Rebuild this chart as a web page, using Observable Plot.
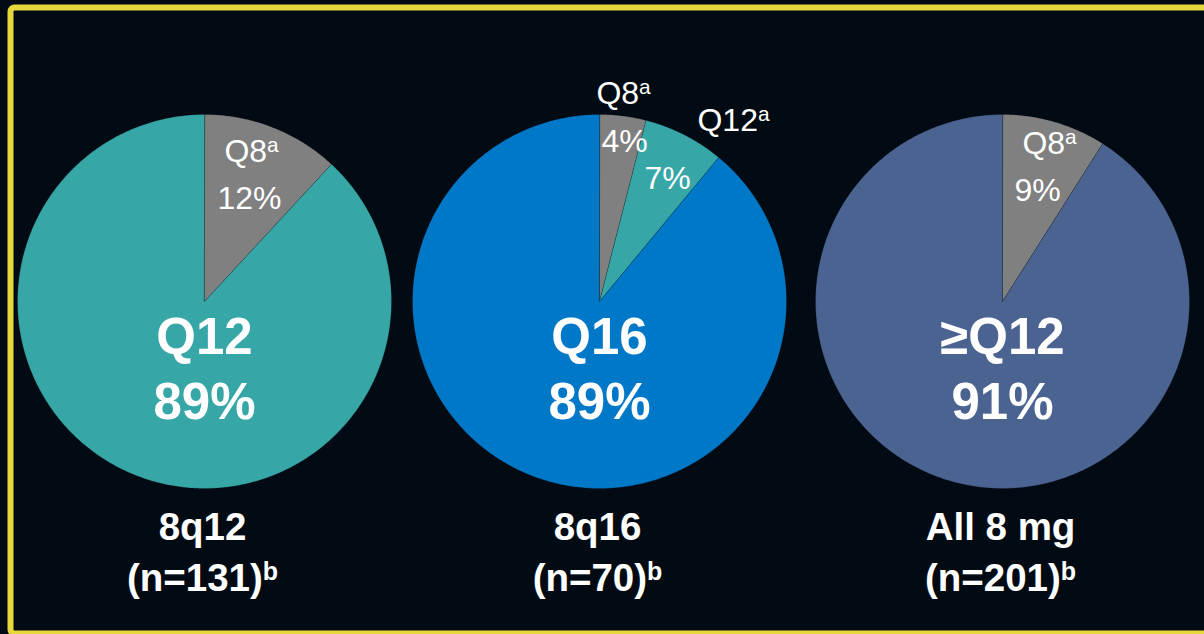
<!DOCTYPE html>
<html>
<head>
<meta charset="utf-8">
<script src="https://cdn.jsdelivr.net/npm/d3@7"></script>
<script src="https://cdn.jsdelivr.net/npm/@observablehq/plot@0.6"></script>
<style>
  html, body { margin: 0; padding: 0; background: #020b13; }
  #chart { width: 1204px; height: 634px; overflow: hidden; }
</style>
</head>
<body>
<div id="chart"></div>
<script>
// ---------- DATA ----------
const groups = ["8q12", "8q16", "All 8 mg"];
const sampleSizes = [131, 70, 201];
const sliceLabels = [
  ["Q8", "Q12"],
  ["Q8", "Q12", "Q16"],
  ["Q8", "≥Q12"]
];
const sliceValues = [
  [12, 89],
  [4, 7, 89],
  [9, 91]
];
const sliceColors = {"Q8": "#808080", "Q12": "#36a6a7", "Q16": "#0078c8", "≥Q12": "#4a6391"};

// ---------- LAYOUT ----------
const W = 1204, H = 634;
const pieCx = [204, 599, 1002];
const pieCy = 301;
const pieR = 187;
// small-label offsets from pie centre [name dx, name dy, pct dx, pct dy], by group and slice index
const smallLabelOffsets = [
  {0: [47, -150, 45, -103]},
  {0: [24, -208, 25, -160], 1: [134, -181, 68, -123]},
  {0: [47, -158, 35, -111]}
];
const bigNameDy = 36, bigPctDy = 101;
const bottomLine1Y = 527, bottomLine2Y = 578;

// ---------- BUILD ----------
const polyPoints = [];
const smallTexts = [];
const bigTexts = [];
groups.forEach((g, gi) => {
  const slices = sliceLabels[gi].map((l, i) => ({label: l, value: sliceValues[gi][i]}));
  const arcs = d3.pie().sort(null).value(d => d.value)(slices);
  const maxVal = d3.max(slices, d => d.value);
  const cx = pieCx[gi];
  arcs.forEach((a, si) => {
    const id = g + "-" + si;
    const color = sliceColors[a.data.label];
    polyPoints.push({id, x: cx, y: pieCy, color});
    const steps = Math.max(2, Math.ceil((a.endAngle - a.startAngle) / (Math.PI / 360)));
    for (let k = 0; k <= steps; k++) {
      const ang = a.startAngle + (a.endAngle - a.startAngle) * k / steps;
      polyPoints.push({id, x: cx + pieR * Math.sin(ang), y: pieCy - pieR * Math.cos(ang), color});
    }
    if (a.data.value === maxVal) {
      bigTexts.push({x: cx, y: pieCy + bigNameDy, text: a.data.label});
      bigTexts.push({x: cx, y: pieCy + bigPctDy, text: a.data.value + "%"});
    } else {
      const o = smallLabelOffsets[gi][si];
      smallTexts.push({x: cx + o[0], y: pieCy + o[1], text: a.data.label + "^a"});
      smallTexts.push({x: cx + o[2], y: pieCy + o[3], text: a.data.value + "%"});
    }
  });
});
const bottomTexts = [];
groups.forEach((g, gi) => {
  bottomTexts.push({x: pieCx[gi] - 2, y: bottomLine1Y, text: g});
  bottomTexts.push({x: pieCx[gi] - 2, y: bottomLine2Y, text: "(n=" + sampleSizes[gi] + ")^b"});
});

const font = "Liberation Sans, Arial, Helvetica, sans-serif";
const svg = Plot.plot({
  width: W,
  height: H,
  margin: 0,
  x: {domain: [0, W], range: [0, W], axis: null},
  y: {domain: [0, H], range: [0, H], axis: null},
  color: {type: "identity"},
  style: {background: "#020b13", fontFamily: font, color: "white"},
  marks: [
    Plot.line(polyPoints, {x: "x", y: "y", z: "id", fill: "color", stroke: "#000", strokeOpacity: 0.25, strokeWidth: 0.8, curve: "linear-closed"}),
    Plot.text(smallTexts, {x: "x", y: "y", text: "text", fill: "white", fontSize: 32, fontFamily: font}),
    Plot.text(bigTexts, {x: "x", y: "y", text: "text", fill: "white", fontSize: 51, fontWeight: "bold", fontFamily: font}),
    Plot.text(bottomTexts, {x: "x", y: "y", text: "text", fill: "white", fontSize: 38.5, fontWeight: "bold", fontFamily: font}),
    Plot.frame({stroke: "#e6d83c", strokeWidth: 6, insetLeft: 10, insetTop: 7, insetRight: -20, insetBottom: 1, rx: 4})
  ]
});

// superscripts
svg.querySelectorAll("text").forEach(t => {
  const s = t.textContent;
  if (s.includes("^")) {
    const [main, sup] = s.split("^");
    t.textContent = main;
    const ts = document.createElementNS("http://www.w3.org/2000/svg", "tspan");
    ts.setAttribute("font-size", "0.65em");
    ts.setAttribute("dy", "-0.45em");
    ts.textContent = sup;
    t.appendChild(ts);
  }
});

document.getElementById("chart").appendChild(svg);
</script>
</body>
</html>
